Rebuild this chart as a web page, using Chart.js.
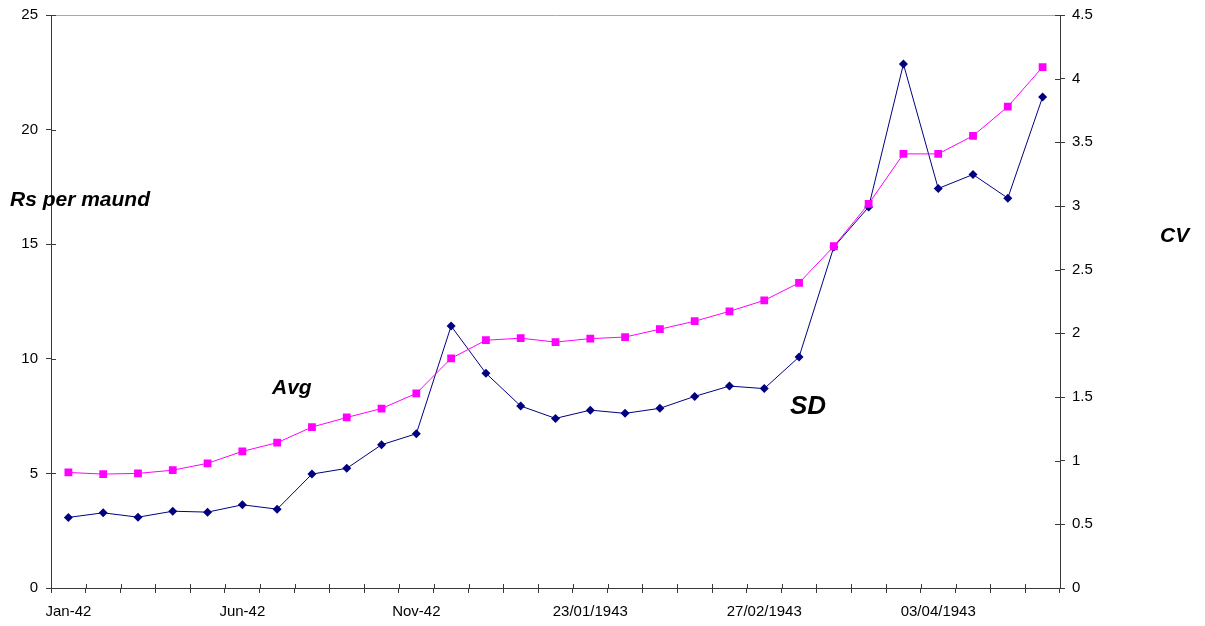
<!DOCTYPE html>
<html>
<head>
<meta charset="utf-8">
<title>Rice prices 1942-43</title>
<script src="https://cdn.jsdelivr.net/npm/chart.js@4/dist/chart.umd.min.js"></script>
<style>
  html, body { margin: 0; padding: 0; background: #ffffff; }
  #wrap { width: 1205px; height: 626px; }
</style>
</head>
<body>
<div id="wrap"><canvas id="chart" width="1205" height="626"></canvas></div>
<script>
// Monthly periods for 1942, weekly from January 1943
const periods = [
  'Jan-42', 'Feb-42', 'Mar-42', 'Apr-42', 'May-42', 'Jun-42', 'Jul-42', 'Aug-42',
  'Sep-42', 'Oct-42', 'Nov-42', 'Dec-42',
  '02/01/1943', '09/01/1943', '16/01/1943', '23/01/1943', '30/01/1943',
  '06/02/1943', '13/02/1943', '20/02/1943', '27/02/1943',
  '06/03/1943', '13/03/1943', '20/03/1943', '27/03/1943',
  '03/04/1943', '10/04/1943', '17/04/1943', '24/04/1943'
];

// Average price, Rs per maund
const avgPrice = [
  5.04, 4.97, 5.00, 5.14, 5.44, 5.96, 6.34, 7.02, 7.44, 7.83,
  8.49, 10.02, 10.81, 10.90, 10.73, 10.88, 10.95, 11.29, 11.64, 12.07,
  12.55, 13.31, 14.91, 16.76, 18.94, 18.94, 19.73, 21.00, 22.73
];

// Standard deviation of price across markets
const sdPrice = [
  3.08, 3.28, 3.09, 3.35, 3.31, 3.63, 3.44, 4.97, 5.22, 6.25,
  6.73, 11.43, 9.37, 7.94, 7.40, 7.76, 7.62, 7.84, 8.36, 8.81,
  8.70, 10.08, 14.88, 16.62, 22.86, 17.43, 18.04, 17.01, 21.42
];

// Axis ranges
const leftTicks = [0, 5, 10, 15, 20, 25];
const rightTicks = [0, 0.5, 1, 1.5, 2, 2.5, 3, 3.5, 4, 4.5];
const labelEvery = 5;

const FONT = "'Liberation Sans', Arial, Helvetica, sans-serif";
const AXIS_COLOR = '#3a3a3a';

// Short inward half of the crossing tick marks, plus the top frame line
const frameAndTicks = {
  id: 'frameAndTicks',
  beforeDatasetsDraw(chart) {
    const { ctx, chartArea } = chart;
    ctx.save();
    ctx.strokeStyle = '#a8a8a8';
    ctx.lineWidth = 1;
    ctx.beginPath();
    ctx.moveTo(chartArea.left, chartArea.top + 0.5);
    ctx.lineTo(chartArea.right, chartArea.top + 0.5);
    ctx.stroke();

    ctx.strokeStyle = AXIS_COLOR;
    const y = chart.scales.y, y2 = chart.scales.y2, x = chart.scales.x;
    ctx.beginPath();
    y.ticks.forEach(t => {
      const py = Math.round(y.getPixelForValue(t.value)) + 0.5;
      ctx.moveTo(chartArea.left, py);
      ctx.lineTo(chartArea.left + 5, py);
    });
    y2.ticks.forEach(t => {
      const py = Math.round(y2.getPixelForValue(t.value)) + 0.5;
      ctx.moveTo(chartArea.right, py);
      ctx.lineTo(chartArea.right - 5, py);
    });
    for (let i = 1; i < periods.length; i++) {
      const px = Math.round((x.getPixelForValue(i - 1) + x.getPixelForValue(i)) / 2) + 0.5;
      ctx.moveTo(px, chartArea.bottom);
      ctx.lineTo(px, chartArea.bottom - 4);
    }
    ctx.stroke();
    ctx.restore();
  }
};

// Axis titles and series names placed inside the figure
const captions = {
  id: 'captions',
  afterDraw(chart) {
    const { ctx } = chart;
    const items = [
      { text: 'Rs per maund', x: 10, y: 206, size: 21 },
      { text: 'Avg', x: 272, y: 394, size: 21 },
      { text: 'SD', x: 790, y: 414, size: 26 },
      { text: 'CV', x: 1160, y: 242, size: 21 }
    ];
    ctx.save();
    ctx.fillStyle = '#000';
    ctx.textBaseline = 'alphabetic';
    ctx.textAlign = 'left';
    items.forEach(it => {
      ctx.font = `italic bold ${it.size}px ${FONT}`;
      ctx.fillText(it.text, it.x, it.y);
    });
    ctx.restore();
  }
};

// Fixed axis sizes so the plot area keeps its place
function fixVertical(width) {
  return s => { s.width = width; s.paddingTop = 0; s.paddingBottom = 0; };
}

new Chart(document.getElementById('chart'), {
  type: 'line',
  data: {
    labels: periods,
    datasets: [
      {
        label: 'Avg',
        data: avgPrice,
        yAxisID: 'y',
        borderColor: '#ff00ff',
        backgroundColor: '#ff00ff',
        borderWidth: 1,
        pointStyle: 'rect',
        pointRadius: 5.5,
        pointBorderWidth: 0,
        tension: 0
      },
      {
        label: 'SD',
        data: sdPrice,
        yAxisID: 'y',
        borderColor: '#000080',
        backgroundColor: '#000080',
        borderWidth: 1,
        pointStyle: 'rectRot',
        pointRadius: 4.5,
        pointBorderWidth: 0,
        tension: 0
      }
    ]
  },
  options: {
    responsive: false,
    animation: false,
    layout: { padding: { top: 15, left: 0, right: 0, bottom: 0 } },
    plugins: {
      legend: { display: false },
      tooltip: { enabled: false }
    },
    scales: {
      x: {
        type: 'category',
        offset: true,
        grid: {
          offset: true,
          drawOnChartArea: false,
          drawTicks: true,
          tickLength: 5,
          color: AXIS_COLOR
        },
        border: { color: AXIS_COLOR, width: 1 },
        ticks: {
          autoSkip: false,
          maxRotation: 0,
          minRotation: 0,
          padding: 10,
          color: '#000',
          font: { family: FONT, size: 15 },
          callback: (v, i) => (i % labelEvery === 0 ? periods[i] : '')
        },
        afterFit: s => { s.height = 38; s.paddingLeft = 0; s.paddingRight = 0; }
      },
      y: {
        position: 'left',
        min: leftTicks[0],
        max: leftTicks[leftTicks.length - 1],
        afterBuildTicks: s => { s.ticks = leftTicks.map(v => ({ value: v })); },
        grid: {
          drawOnChartArea: false,
          tickLength: 5,
          color: AXIS_COLOR
        },
        border: { color: AXIS_COLOR, width: 1 },
        ticks: {
          padding: 8,
          color: '#000',
          font: { family: FONT, size: 15 },
          callback: v => String(v)
        },
        afterFit: fixVertical(51)
      },
      y2: {
        position: 'right',
        min: rightTicks[0],
        max: rightTicks[rightTicks.length - 1],
        afterBuildTicks: s => { s.ticks = rightTicks.map(v => ({ value: v })); },
        grid: {
          drawOnChartArea: false,
          tickLength: 5,
          color: AXIS_COLOR
        },
        border: { color: AXIS_COLOR, width: 1 },
        ticks: {
          padding: 7,
          color: '#000',
          font: { family: FONT, size: 15 },
          callback: v => String(v)
        },
        afterFit: fixVertical(145)
      }
    }
  },
  plugins: [frameAndTicks, captions]
});
</script>
</body>
</html>
